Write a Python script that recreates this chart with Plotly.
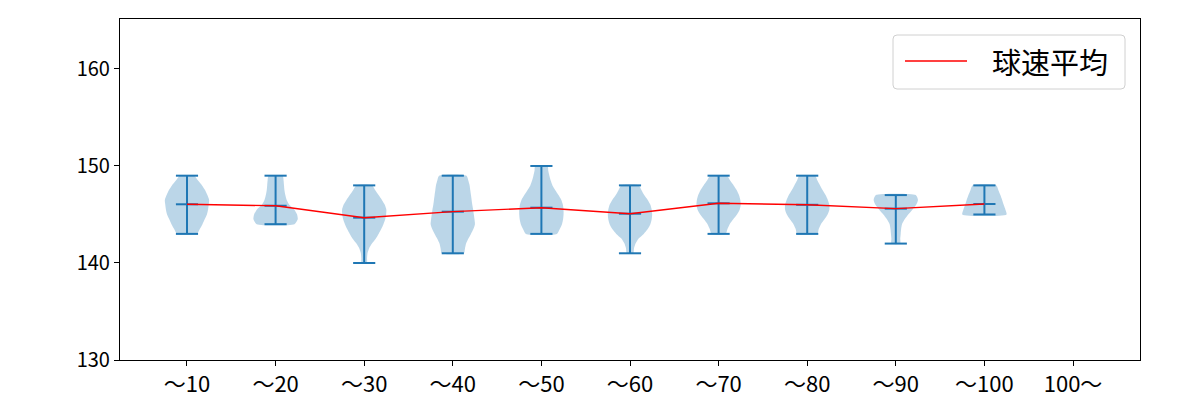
import plotly.graph_objects as go
import numpy as np

categories = ["〜10", "〜20", "〜30", "〜40", "〜50", "〜60", "〜70", "〜80", "〜90", "〜100", "100〜"]
mins = [143, 144, 140, 141, 143, 141, 143, 143, 142, 145]
maxs = [149, 149, 148, 149, 150, 148, 149, 149, 147, 148]
means = [146.05, 145.9, 144.67, 145.29, 145.7, 145.08, 146.15, 146.0, 145.6, 146.08]
legend_label = "球速平均"
# relative density profiles, bottom (min) to top (max), evenly spaced
densities = [
    [0.45, 0.58, 0.7, 0.8, 0.9, 0.95, 0.98, 1.0, 0.92, 0.82, 0.68, 0.5, 0.32],
    [0.85, 1.0, 0.97, 0.85, 0.62, 0.5, 0.44, 0.4, 0.38, 0.36, 0.32],
    [0.12, 0.13, 0.15, 0.22, 0.35, 0.52, 0.65, 0.77, 0.87, 0.95, 0.99, 1.0, 0.93, 0.8, 0.65, 0.5, 0.36],
    [0.5, 0.55, 0.6, 0.7, 0.82, 0.93, 1.0, 0.98, 0.95, 0.92, 0.88, 0.85, 0.82, 0.79, 0.76, 0.7, 0.62],
    [0.7, 0.83, 0.93, 0.98, 1.0, 1.0, 0.97, 0.9, 0.77, 0.63, 0.5, 0.42, 0.36, 0.31, 0.28],
    [0.15, 0.18, 0.25, 0.38, 0.62, 0.8, 0.92, 0.98, 1.0, 0.98, 0.92, 0.8, 0.64, 0.52, 0.4],
    [0.32, 0.4, 0.5, 0.66, 0.83, 0.95, 1.0, 0.98, 0.92, 0.82, 0.68, 0.52, 0.38],
    [0.46, 0.52, 0.62, 0.78, 0.92, 1.0, 1.0, 0.93, 0.83, 0.7, 0.58, 0.46, 0.36],
    [0.2, 0.2, 0.22, 0.24, 0.28, 0.4, 0.56, 0.75, 0.92, 1.0, 0.9],
    [1.0, 0.95, 0.87, 0.8, 0.72, 0.63, 0.54],
]

BLUE = "#1f77b4"
HALF = 0.25
CAP = 0.125

W, H = 1200, 400
ML, MR, MT, MB = 120, 60, 19, 40
PW, PH = W - ML - MR, H - MT - MB


def px(xp):
    return (xp - ML) / PW


def py(yp):
    return (H - MB - yp) / PH


fig = go.Figure()
positions = list(range(1, len(categories) + 1))

for i, dens in enumerate(densities):
    p = positions[i]
    ys = np.linspace(mins[i], maxs[i], len(dens))
    d = np.array(dens)
    xr = p + HALF * d
    xl = p - HALF * d
    xs = np.concatenate([xr, xl[::-1], [xr[0]]])
    yy = np.concatenate([ys, ys[::-1], [ys[0]]])
    fig.add_trace(go.Scatter(x=xs, y=yy, mode="lines", fill="toself",
                             fillcolor="rgba(31,119,180,0.3)",
                             line=dict(width=0, color="rgba(31,119,180,0.3)", shape="spline", smoothing=0.6),
                             showlegend=False, hoverinfo="skip"))

# vertical bars, caps, mean bars
vx, vy = [], []
for i in range(len(densities)):
    p = positions[i]
    vx += [p, p, None]
    vy += [mins[i], maxs[i], None]
    for val in (mins[i], maxs[i], means[i]):
        vx += [p - CAP, p + CAP, None]
        vy += [val, val, None]
fig.add_trace(go.Scatter(x=vx, y=vy, mode="lines", line=dict(color=BLUE, width=2),
                         showlegend=False, hoverinfo="skip"))

fig.add_trace(go.Scatter(x=positions[:len(means)], y=means, mode="lines",
                         line=dict(color="red", width=1.4), name=legend_label, showlegend=False))

# legend box (matplotlib style, rounded)
x0, x1, y0, y1, r = 893, 1125, 35, 89, 4
path = (f"M {px(x0 + r)} {py(y0)} L {px(x1 - r)} {py(y0)} Q {px(x1)} {py(y0)} {px(x1)} {py(y0 + r)} "
        f"L {px(x1)} {py(y1 - r)} Q {px(x1)} {py(y1)} {px(x1 - r)} {py(y1)} "
        f"L {px(x0 + r)} {py(y1)} Q {px(x0)} {py(y1)} {px(x0)} {py(y1 - r)} "
        f"L {px(x0)} {py(y0 + r)} Q {px(x0)} {py(y0)} {px(x0 + r)} {py(y0)} Z")
fig.add_shape(type="path", path=path, xref="paper", yref="paper",
              line=dict(color="#d0d0d0", width=1), fillcolor="rgba(255,255,255,0.8)")
fig.add_shape(type="line", xref="paper", yref="paper", x0=px(905), x1=px(967), y0=py(61), y1=py(61),
              line=dict(color="red", width=1.4))
fig.add_annotation(text=legend_label, xref="paper", yref="paper", x=px(990), y=py(61),
                   xanchor="left", yanchor="middle", showarrow=False,
                   font=dict(family="Noto Sans CJK JP", size=29, color="black"))

axis_common = dict(showline=True, linecolor="black", linewidth=1.1, mirror=True,
                   ticks="outside", ticklen=5, tickwidth=1.1, tickcolor="black",
                   showgrid=False, zeroline=False, automargin=False)

fig.update_layout(
    width=W, height=H,
    margin=dict(l=ML, r=MR, t=MT, b=MB),
    plot_bgcolor="white", paper_bgcolor="white",
    xaxis=dict(range=[0.244, 11.756], tickmode="array", tickvals=positions, ticktext=categories,
               tickfont=dict(family="Noto Sans CJK JP", size=22, color="black"), **axis_common),
    yaxis=dict(range=[130, 165.15], tickmode="array", tickvals=[130, 140, 150, 160],
               tickfont=dict(family="Noto Sans CJK JP", size=20, color="black"), **axis_common),
    showlegend=False,
)

fig.write_html("out.html")
